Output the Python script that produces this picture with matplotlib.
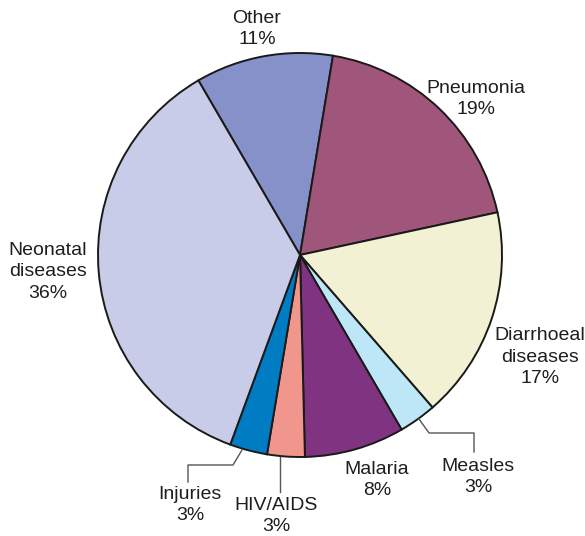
import matplotlib
matplotlib.use("Agg")
import matplotlib.pyplot as plt

# slices, clockwise from the top
causes = ["Other", "Pneumonia", "Diarrhoeal\ndiseases", "Measles", "Malaria",
          "HIV/AIDS", "Injuries", "Neonatal\ndiseases"]
shares = [11, 19, 17, 3, 8, 3, 3, 36]
colors = ["#8591c8", "#a0557a", "#f3f1d3", "#bde6f6", "#7f3380",
          "#f0968c", "#007cc3", "#c9cce8"]

plt.rcParams["font.family"] = ["Liberation Sans", "DejaVu Sans"]

W, H = 585, 536
fig = plt.figure(figsize=(W / 100, H / 100), dpi=100)
ax = fig.add_axes([0, 0, 1, 1])

# y axis points down (picture coords), so counterclock in data = clockwise on screen
ax.pie(shares, colors=colors, startangle=-120.2, counterclock=True,
       center=(300, 255), radius=202, frame=True,
       wedgeprops=dict(edgecolor="#1a1a1a", linewidth=1.4))
ax.set_xlim(0, W)
ax.set_ylim(H, 0)
ax.set_aspect("equal")
ax.axis("off")

# label text positions (pixel coords of the picture)
label_pos = [(257, 29), (476, 99), (540, 357), (478, 477), (377, 480),
             (276, 516), (190, 505), (48, 272)]
for name, pct, (x, y) in zip(causes, shares, label_pos):
    ax.text(x, y, f"{name}\n{pct}%", ha="center", va="center",
            fontsize=14, color="#1e1e1e", linespacing=1.33)

# leader lines
lc = "#555555"
ax.plot([242, 233, 188, 188], [450, 465, 465, 482], color=lc, lw=1)
ax.plot([280, 280], [457, 492], color=lc, lw=1)
ax.plot([419, 429, 474, 474], [419, 433, 433, 452], color=lc, lw=1)

fig.savefig("out.png", dpi=100)
